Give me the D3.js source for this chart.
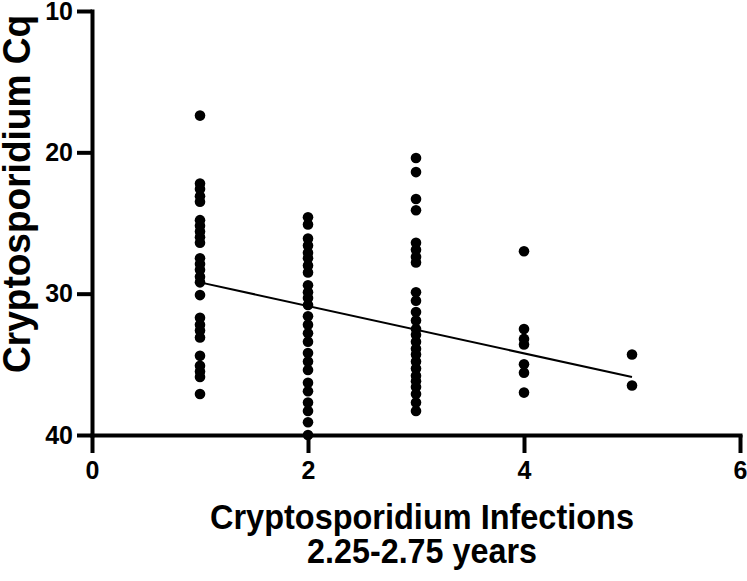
<!DOCTYPE html>
<html lang="en">
<head>
<meta charset="UTF-8">
<title>Cryptosporidium Cq vs infections</title>
<style>
  body { margin: 0; background: #fff; }
  svg { display: block; }
  svg .axis path, svg .axis line { stroke: #000; stroke-width: 4px; }
  svg .axis text { font-family: "Liberation Sans", Arial, sans-serif; font-weight: bold; font-size: 25px; fill: #000; }
  svg .title { font-family: "Liberation Sans", Arial, sans-serif; font-weight: bold; font-size: 35px; fill: #000; }
  svg .ytitle { font-size: 38px; }
  svg .dot { fill: #000; }
  svg .fit { stroke: #000; stroke-width: 2px; fill: none; }
</style>
</head>
<body>
<div id="chart"></div>
<script src="https://cdnjs.cloudflare.com/ajax/libs/d3/7.8.5/d3.min.js"></script>
<script>
  // values, one array per infection count
  var infections = [1, 2, 3, 4, 5];
  var cq1 = [17.4, 22.2, 22.6, 23.1, 23.5, 24.8, 25.2, 25.6, 26.0, 26.4, 27.5, 27.9, 28.3, 28.8, 29.2,
    30.1, 31.7, 32.2, 32.6, 33.1, 34.4, 35.1, 35.5, 35.9, 37.1];
  var cq2 = [24.6, 25.1, 26.1, 26.6, 27.1, 27.5, 28.0, 28.5, 29.4, 29.9, 30.3, 30.8, 31.6, 32.2, 32.8,
    33.4, 34.2, 34.8, 35.4, 36.3, 36.9, 37.7, 38.3, 39.1, 40.0];
  var cq3 = [20.4, 21.4, 23.3, 24.1, 26.4, 26.9, 27.4, 27.8, 29.9, 30.5, 31.3, 31.9, 32.5, 32.9, 33.4,
    33.9, 34.3, 34.8, 35.3, 35.8, 36.2, 36.6, 37.1, 37.7, 38.3];
  var cq4 = [27.0, 32.5, 33.2, 33.6, 35.0, 35.6, 37.0];
  var cq5 = [34.3, 36.5];
  var groups = [cq1, cq2, cq3, cq4, cq5];

  // fitted line ends, as drawn
  var fitX = [1, 5];
  var fitY = [29.2, 35.9];

  var xTicks = [0, 2, 4, 6];
  var yTicks = [10, 20, 30, 40];

  var width = 747,
    height = 581;

  var x = d3.scaleLinear().domain([0, 6]).range([92, 740]);
  var y = d3.scaleLinear().domain([10, 40]).range([11, 435]);

  var svg = d3.select('#chart').append('svg')
    .attr('width', width)
    .attr('height', height);

  var points = [];
  groups.forEach(function(g, i) {
    g.forEach(function(v) {
      points.push({x: infections[i], y: v});
    });
  });

  svg.append('path')
    .attr('class', 'fit')
    .attr('d', d3.line()([[x(fitX[0]), y(fitY[0])], [x(fitX[1]), y(fitY[1])]]));

  svg.append('g')
    .selectAll('circle')
    .data(points)
    .enter()
    .append('circle')
    .attr('class', 'dot')
    .attr('cx', function(d) { return x(d.x); })
    .attr('cy', function(d) { return y(d.y); })
    .attr('r', 5.3);

  var yAxis = svg.append('g')
    .attr('class', 'axis')
    .attr('transform', 'translate(' + x(0) + ',0)')
    .call(d3.axisLeft(y).tickValues(yTicks).tickFormat(d3.format('d'))
      .tickSize(15).tickPadding(4).tickSizeOuter(0));

  var xAxis = svg.append('g')
    .attr('class', 'axis')
    .attr('transform', 'translate(0,' + y(40) + ')')
    .call(d3.axisBottom(x).tickValues(xTicks).tickFormat(d3.format('d'))
      .tickSize(18).tickPadding(8).tickSizeOuter(0));

  yAxis.select('.domain').attr('stroke-linecap', 'square');
  xAxis.select('.domain').attr('stroke-linecap', 'square');

  svg.append('text')
    .attr('class', 'title ytitle')
    .attr('text-anchor', 'middle')
    .attr('transform', 'translate(30,194) rotate(-90)')
    .attr('textLength', 358)
    .attr('lengthAdjust', 'spacingAndGlyphs')
    .text('Cryptosporidium Cq');

  svg.append('text')
    .attr('class', 'title')
    .attr('text-anchor', 'middle')
    .attr('x', 422)
    .attr('y', 529)
    .attr('textLength', 424)
    .attr('lengthAdjust', 'spacingAndGlyphs')
    .text('Cryptosporidium Infections');

  svg.append('text')
    .attr('class', 'title')
    .attr('text-anchor', 'middle')
    .attr('x', 422)
    .attr('y', 563)
    .attr('textLength', 230)
    .attr('lengthAdjust', 'spacingAndGlyphs')
    .text('2.25-2.75 years');
</script>
</body>
</html>
